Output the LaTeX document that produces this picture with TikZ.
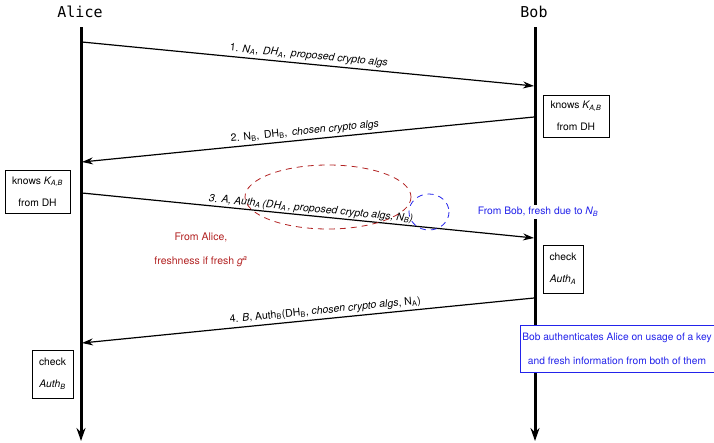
\documentclass[tikz,border=0pt]{standalone}
\usepackage{fontspec}
\setmainfont{TeX Gyre Heros}
\newfontfamily\monofont{DejaVu Sans Mono}
\usetikzlibrary{arrows.meta}
\definecolor{darkred}{RGB}{178,34,34}
\definecolor{noteblue}{RGB}{35,35,235}
\newcommand{\ssub}[1]{\textsubscript{#1}}
\begin{document}
\begin{tikzpicture}[x=1pt,y=-1pt,
  actor/.style={font=\monofont\fontsize{15}{17}\selectfont, anchor=center},
  lifeline/.style={line width=3pt, -{Stealth[length=13pt,width=9pt]}},
  msg/.style={line width=1.2pt, -{Stealth[length=11pt,width=7pt]}},
  msglabel/.style={font=\fontsize{10.5}{12}\selectfont, sloped, above, inner sep=2.5pt},
  notebox/.style={draw, line width=0.6pt, fill=white, align=center, font=\fontsize{10.3}{22}\selectfont, inner xsep=3pt, inner ysep=3pt},
  redtext/.style={text=darkred, font=\fontsize{10.5}{24}\selectfont, align=center},
  bluetext/.style={text=noteblue, font=\fontsize{10.3}{12}\selectfont}
]
\useasboundingbox (0,0) rectangle (714,442);

% participants
\node[actor] (alice) at (80,12) {Alice};
\node[actor] (bob) at (534,12) {Bob};
\coordinate (aTop) at (81,27);
\coordinate (aBot) at (81,441);
\coordinate (bTop) at (535,27);
\coordinate (bBot) at (535,441);
\draw[lifeline] (aTop) -- (aBot);
\draw[lifeline] (bTop) -- (bBot);

% message end points on the lifelines
\coordinate (m1s) at (82,42);  \coordinate (m1e) at (534,86);
\coordinate (m2s) at (534,117); \coordinate (m2e) at (82,162);
\coordinate (m3s) at (82,193); \coordinate (m3e) at (534,238);
\coordinate (m4s) at (534,298); \coordinate (m4e) at (82,343);

\draw[msg] (m1s) -- node[msglabel, pos=0.5] {1. \textit{N\ssub{A}},\, \textit{DH\ssub{A}},\, \textit{proposed crypto algs}} (m1e);
\draw[msg] (m2s) -- node[msglabel, pos=0.505] {2. N\ssub{B},\, DH\ssub{B},\, \textit{chosen crypto algs}} (m2e);
\draw[msg] (m3s) -- node[msglabel, pos=0.505, inner sep=1pt] {\textit{3. A, Auth\ssub{A}\,(DH\ssub{A}\,, proposed crypto algs, N\ssub{B})}} (m3e);
\draw[msg] (m4s) -- node[msglabel, pos=0.46] {4. \textit{B}, Auth\ssub{B}(DH\ssub{B}, \textit{chosen crypto algs}, N\ssub{A})} (m4e);

% state boxes
\node[notebox, minimum width=66pt, minimum height=42pt] (bobKnows) at (576,116) {knows \textit{K\ssub{A,B}}\\from DH};
\node[notebox, minimum width=65pt, minimum height=43pt] (aliceKnows) at (37.5,191.5) {knows \textit{K\ssub{A,B}}\\from DH};
\node[notebox, minimum width=40pt, minimum height=48pt] (checkA) at (563,269) {check\\\textit{Auth\ssub{A}}};
\node[notebox, minimum width=41pt, minimum height=48pt] (checkB) at (52.5,374) {check\\\textit{Auth\ssub{B}}};

% freshness annotations
\draw[darkred, line width=0.8pt, dash pattern=on 6pt off 5pt] (328,197) ellipse [x radius=83, y radius=32];
\draw[noteblue, line width=0.8pt, dash pattern=on 6pt off 5pt] (429,212) ellipse [x radius=20, y radius=18];
\node[redtext] (aliceFresh) at (201,250) {From Alice,\\freshness if fresh \textit{g\textsuperscript{a}}};
\node[bluetext, fill=white, inner sep=2pt] (bobFresh) at (538,212) {From Bob, fresh due to \textit{N\ssub{B}}};
\node[draw=noteblue, fill=white, line width=0.8pt, text=noteblue, align=center,
      font=\fontsize{10.2}{24}\selectfont, minimum width=194pt, minimum height=47pt, inner xsep=1pt] (authNote) at (617,348.5)
      {Bob authenticates Alice on usage of a key\\and fresh information from both of them};
\end{tikzpicture}
\end{document}
